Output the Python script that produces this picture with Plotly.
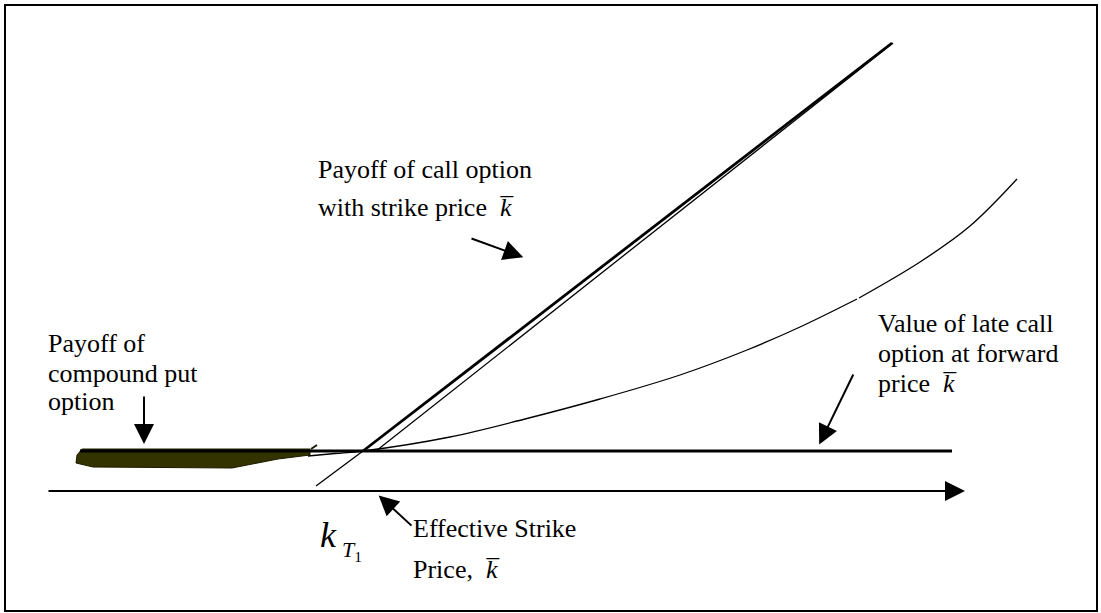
import plotly.graph_objects as go

# diagram units: x = underlying price, y = value (price axis sits at y = 0)
axis_x = [4.7, 97.0]
axis_y = [0.0, 0.0]

late_call_x = [8.0, 95.2]
late_call_y = [4.0, 4.0]

call_left_low_x = [31.6, 36.3]
call_left_low_y = [0.5, 4.0]
call_left_x = [36.3, 89.2]
call_left_y = [4.0, 44.8]
call_right_x = [37.6, 89.3]
call_right_y = [4.0, 44.8]

value_x = [30.8, 33.5, 36.3, 45.0, 52.5, 60.0, 68.0, 74.7, 80.0, 85.7]
value_y = [3.5, 3.75, 4.0, 5.4, 7.2, 9.2, 11.6, 14.1, 16.4, 19.2]
value_hi_x = [85.9, 92.0, 97.0, 101.7]
value_hi_y = [19.3, 22.9, 26.5, 31.2]

put_x = [8.2, 31.0, 31.0, 27.8, 23.2, 9.3, 7.6, 7.7, 8.2]
put_y = [4.2, 4.2, 3.6, 3.2, 2.3, 2.4, 2.8, 3.6, 4.2]
spike_x = [31.1, 31.7]
spike_y = [4.2, 4.6]

SERIF = "Liberation Serif"

fig = go.Figure()

fig.add_trace(go.Scatter(x=put_x, y=put_y, mode="lines", fill="toself",
                         fillcolor="#333300", line=dict(color="#1a1a00", width=1)))
fig.add_trace(go.Scatter(x=spike_x, y=spike_y, mode="lines", line=dict(color="#1a1a00", width=2)))
fig.add_trace(go.Scatter(x=value_x, y=value_y, mode="lines", line_shape="spline",
                         line=dict(color="black", width=1.3)))
fig.add_trace(go.Scatter(x=value_hi_x, y=value_hi_y, mode="lines", line_shape="spline",
                         line=dict(color="black", width=1.3)))
fig.add_trace(go.Scatter(x=late_call_x, y=late_call_y, mode="lines", line=dict(color="black", width=3)))
fig.add_trace(go.Scatter(x=call_left_low_x, y=call_left_low_y, mode="lines",
                         line=dict(color="black", width=1.3)))
fig.add_trace(go.Scatter(x=call_left_x, y=call_left_y, mode="lines", line=dict(color="black", width=2.8)))
fig.add_trace(go.Scatter(x=call_right_x, y=call_right_y, mode="lines", line=dict(color="black", width=1.3)))


def arrow(x0, y0, x1, y1):
    fig.add_annotation(x=x1, y=y1, ax=x0, ay=y0, xref="x", yref="y", axref="x", ayref="y",
                       text="", showarrow=True, arrowhead=2, arrowwidth=2, arrowsize=2,
                       arrowcolor="black", standoff=5)


arrow(axis_x[0], axis_y[0], axis_x[1], axis_y[1])
arrow(14.4, 9.6, 14.4, 4.2)
arrow(47.0, 25.3, 52.8, 23.2)
arrow(85.4, 11.8, 81.7, 4.2)
arrow(41.3, -3.6, 37.5, -0.1)


def label(x, y, text, size=26):
    fig.add_annotation(x=x, y=y, xref="x", yref="y", text=text, showarrow=False,
                       xanchor="left", yanchor="middle",
                       font=dict(family=SERIF, size=size, color="black"))


kbar = "<i>k\u0305</i>"
label(31.6, 32.15, "Payoff of call option")
label(31.6, 28.35, "with strike price  " + kbar)
label(4.6, 14.75, "Payoff of")
label(4.6, 11.75, "compound put")
label(4.6, 8.95, "option")
label(87.6, 16.8, "Value of late call")
label(87.6, 13.75, "option at forward")
label(87.6, 10.75, "price  " + kbar)
label(41.1, -3.75, "Effective Strike")
label(41.1, -7.85, "Price,  " + kbar)
label(31.8, -4.4, "<i>k</i>", size=36)
label(34.0, -5.95, "<i>T</i><sub>1</sub>", size=22)

fig.add_shape(type="rect", x0=0.5, x1=109.7, y0=-12.0, y1=48.6, xref="x", yref="y",
              line=dict(color="black", width=2))

fig.update_layout(
    width=1101, height=613,
    margin=dict(l=0, r=0, t=0, b=0),
    paper_bgcolor="white", plot_bgcolor="white",
    showlegend=False,
    xaxis=dict(range=[0, 110.1], visible=False),
    yaxis=dict(range=[-12.2, 49.1], visible=False),
)

fig.write_html("out.html", config={"displayModeBar": False},
               post_script="document.body.style.margin='0';document.body.style.overflow='hidden';")
